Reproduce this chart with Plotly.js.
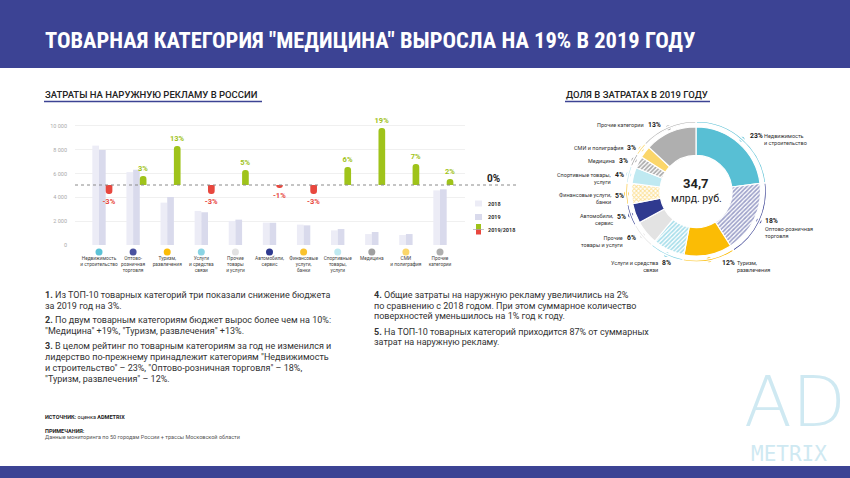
<!DOCTYPE html>
<html><head><meta charset="utf-8">
<script src="https://cdn.plot.ly/plotly-3.0.1.min.js"></script>
<style>html,body{margin:0;padding:0;background:#fff;}#chart{width:850px;height:478px;}</style>
</head><body><div id="chart"></div>
<script>
// ---------------- DATA ----------------
const categories = ['Недвижимость<br>и строительство','Оптово-<br>розничная<br>торговля','Туризм,<br>развлечения','Услуги<br>и средства<br>связи','Прочие<br>товары<br>и услуги','Автомобили,<br>сервис','Финансовые<br>услуги,<br>банки','Спортивные<br>товары,<br>услуги','Медицина','СМИ<br>и полиграфия','Прочие<br>категории'];
const spend2018 = [8350, 6120, 3560, 2860, 2020, 1880, 1710, 1230, 920, 840, 4590];
const spend2019 = [7980, 6320, 4030, 2750, 2130, 1870, 1650, 1340, 1090, 920, 4680];
const changePct = [-3, 3, 13, -3, 5, -1, -3, 6, 19, 7, 2];
const yTickVals = [0, 2000, 4000, 6000, 8000, 10000];
const yTickText = ['0', '2 000', '4 000', '6 000', '8 000', '10 000'];
const sharePct = [23, 18, 12, 8, 6, 5, 5, 4, 3, 3, 13];
const shareLabelLines = [['Недвижимость','и строительство'],['Оптово-розничная','торговля'],['Туризм,','развлечения'],['Услуги и средства','связи'],['Прочие','товары и услуги'],['Автомобили,','сервис'],['Финансовые услуги,','банки'],['Спортивные товары,','услуги'],['Медицина'],['СМИ и полиграфия'],['Прочие категории']];
const totalText = '34,7';
const totalUnit = 'млрд. руб.';
const legendLabels = ['2018', '2019', '2019/2018'];
const titleText = 'ТОВАРНАЯ КАТЕГОРИЯ "МЕДИЦИНА" ВЫРОСЛА НА 19% В 2019 ГОДУ';
const leftTitle = 'ЗАТРАТЫ НА НАРУЖНУЮ РЕКЛАМУ В РОССИИ';
const rightTitle = 'ДОЛЯ В ЗАТРАТАХ В 2019 ГОДУ';
const paraLeft = [
 ['<b>1.</b> Из ТОП-10 товарных категорий три показали снижение бюджета','за 2019 год на 3%.'],
 ['<b>2.</b> По двум товарным категориям бюджет вырос более чем на 10%:','"Медицина" +19%, "Туризм, развлечения" +13%.'],
 ['<b>3.</b> В целом рейтинг по товарным категориям за год не изменился и','лидерство по-прежнему принадлежит категориям "Недвижимость','и строительство" – 23%, "Оптово-розничная торговля" – 18%,','"Туризм, развлечения" – 12%.']
];
const paraRight = [
 ['<b>4.</b> Общие затраты на наружную рекламу увеличились на 2%','по сравнению с 2018 годом. При этом суммарное количество','поверхностей уменьшилось на 1% год к году.'],
 ['<b>5.</b> На ТОП-10 товарных категорий приходится 87% от суммарных','затрат на наружную рекламу.']
];
const sourceText = '<b>ИСТОЧНИК:</b> оценка <b>ADMETRIX</b>';
const notesTitle = '<b>ПРИМЕЧАНИЯ:</b>';
const notesText = 'Данные мониторинга по 50 городам России + трассы Московской области';

// ---------------- STYLE ----------------
const W = 850, H = 478;
const X = p => p / W, Y = p => 1 - p / H;
const NAVY = '#3c4394', GREEN = '#9fc31a', RED = '#e8473e';
const iconColors = ['#5bc2d6','#4a52a0','#fbbc05','#8ad4e4','#e2e2e2','#2f3a8f','#f9c22e','#bfe9f1','#a0a0a0','#fbd66a','#afafaf'];
const sliceColors = ['#58bfd4','#ffffff','#fbbc05','#ffffff','#e3e3e3','#2f3a8f','#ffffff','#bfe9f1','#ffffff','#fbd66a','#afafaf'];
const slicePattern = ['','/','','/','','','x','','/','',''];
const sliceFg = ['#58bfd4','#3c4394','#fbbc05','#4fbdd6','#e3e3e3','#2f3a8f','#f9c22e','#bfe9f1','#555555','#fbd66a','#afafaf'];
const ringColors = ['#58bfd4','#3c4394','#fbbc05','#7fd0e2','#e2e2e2','#2f3a8f','#f9c22e','#bfe9f1','#9a9a9a','#fbd66a','#afafaf'];
const BW = 0.196;
const idx = categories.map((_, i) => i);
const FONT = 'Roboto, "Open Sans", sans-serif';

const traces = [
 {type:'bar', x: idx, y: spend2018, offset: -BW, width: BW, marker:{color:'#ececf6'}, xaxis:'x', yaxis:'y', hoverinfo:'skip'},
 {type:'bar', x: idx, y: spend2019, offset: 0, width: BW, marker:{color:'#d9daec'}, xaxis:'x', yaxis:'y', hoverinfo:'skip'},
 {type:'bar', x: idx, y: changePct, offset: BW, width: BW, xaxis:'x', yaxis:'y2',
  marker:{color: changePct.map(v => v >= 0 ? GREEN : RED), cornerradius: 3},
  text: changePct.map(v => v + '%'), textposition:'outside', constraintext:'none', cliponaxis:false,
  textfont:{family:FONT, size:7.5, weight:700, color: changePct.map(v => v >= 0 ? GREEN : RED)}, hoverinfo:'skip'},
 {type:'scatter', mode:'markers', x: idx, y: idx.map(() => 0.5), xaxis:'x', yaxis:'y4', cliponaxis:false,
  marker:{size:7, color: iconColors}, hoverinfo:'skip'}
];

// donut
traces.push({type:'pie', values: sharePct, sort:false, direction:'clockwise', rotation:0, hole:0.56,
 domain:{x:[X(631.5), X(760.5)], y:[Y(256), Y(127)]}, textinfo:'none', hoverinfo:'none', showlegend:false,
 marker:{colors: sliceColors, line:{color:'#ffffff', width:1.2},
  pattern:{shape: slicePattern, fgcolor: sliceFg, fillmode:'overlay', size:3, solidity:0.55}}});
// outer ring
traces.push({type:'pie', values: sharePct, sort:false, direction:'clockwise', rotation:0, hole:0.97,
 domain:{x:[X(625.5), X(766.5)], y:[Y(262), Y(121)]}, textinfo:'none', hoverinfo:'none', showlegend:false,
 marker:{colors: ringColors, line:{color:'#ffffff', width:1.5}}});
// ring dots at slice middles
const total = sharePct.reduce((a, b) => a + b, 0);
let cum = 0; const dotX = [], dotY = [];
sharePct.forEach(v => { const a = 2 * Math.PI * (cum + v / 2) / total; dotX.push(69.5 * Math.sin(a)); dotY.push(69.5 * Math.cos(a)); cum += v; });
traces.push({type:'scatter', mode:'markers', x: dotX, y: dotY, xaxis:'x3', yaxis:'y3', cliponaxis:false,
 marker:{size:5, color: ringColors}, hoverinfo:'skip'});

// ---------------- ANNOTATIONS ----------------
const ann = [];
const A = (txt, x, y, o) => ann.push(Object.assign({text: txt, x: X(x), y: Y(y), xref:'paper', yref:'paper', showarrow:false, xanchor:'left', yanchor:'middle', borderpad:0, font:{family:FONT, size:9, color:'#333'}}, o || {}));
A('<b>' + titleText + '</b>', 44, 40, {font:{family:'"Liberation Sans Narrow", "Roboto Condensed", "Arial Narrow", sans-serif', size:22.5, color:'#ffffff'}});
A(leftTitle, 44, 94.5, {font:{family:FONT, size:9.5, color:'#222', weight:500}});
A(rightTitle, 565, 94.5, {font:{family:FONT, size:9.5, color:'#222', weight:500}});
// paragraphs
const leftY = [[295, 305.5], [319.5, 330.5], [346, 357, 368, 379]];
paraLeft.forEach((p, i) => p.forEach((l, j) => A(l, 44, leftY[i][j])));
const rightY = [[295, 305.5, 316], [331.5, 342]];
paraRight.forEach((p, i) => p.forEach((l, j) => A(l, 373, rightY[i][j])));
A(sourceText, 44, 417, {font:{family:FONT, size:5.5, color:'#222'}});
A(notesTitle, 44, 430.5, {font:{family:FONT, size:5.5, color:'#222'}});
A(notesText, 44, 436.5, {font:{family:FONT, size:5.5, color:'#555'}});
// legend + 0%
A('<b>0%</b>', 486, 178, {font:{family:FONT, size:10, color:'#222'}});
A(legendLabels[0], 487, 203.5, {font:{family:FONT, size:5.5, color:'#333', weight:700}});
A(legendLabels[1], 487, 217, {font:{family:FONT, size:5.5, color:'#333', weight:700}});
A(legendLabels[2], 487, 229.5, {font:{family:FONT, size:5.5, color:'#333', weight:700}});
// donut centre
A('<b>' + totalText + '</b>', 696, 183, {xanchor:'center', font:{family:FONT, size:13, color:'#222'}});
A(totalUnit, 696, 198, {xanchor:'center', font:{family:FONT, size:10.5, color:'#222'}});
// donut labels
const labelPos = [
 {side:'r', px:749, py:136, nx:763, ny:136},
 {side:'r', px:764, py:221, nx:764, ny:229},
 {side:'r', px:721, py:263, nx:736, ny:263},
 {side:'l', nx:659, ny:263},
 {side:'l', nx:624, ny:238},
 {side:'l', nx:614, ny:216.5},
 {side:'l', nx:612, ny:195.5},
 {side:'l', nx:612, ny:175},
 {side:'l', nx:616, ny:161},
 {side:'l', nx:624, ny:147.5},
 {side:'l', nx:645, ny:125}
];
const LH = 6.6;
sharePct.forEach((v, i) => {
 const L = labelPos[i], lines = shareLabelLines[i];
 const cy = L.ny + (lines.length - 1) * LH / 2;
 const nameFont = {family:FONT, size:5.5, color:'#333'};
 const pctFont = {family:FONT, size:6.8, color:'#222', weight:700};
 if (L.side === 'l') {
  A(lines.join('<br>'), L.nx, cy, {xanchor:'right', align:'right', font:nameFont});
  A(v + '%', L.nx + 2, L.ny, {font:pctFont});
 } else {
  A(lines.join('<br>'), L.nx, cy, {align:'left', font:nameFont});
  A(v + '%', L.px, L.py, {font:pctFont});
 }
});
// logo
A('AD', 795, 402, {xanchor:'center', font:{family:'"DejaVu Sans", sans-serif', size:70, color:'#cfe9f2', weight:200}});
A('METRIX', 789, 454, {xanchor:'center', font:{family:'"DejaVu Sans Mono", monospace', size:21, color:'#cfe9f2'}});

// ---------------- SHAPES ----------------
const shapes = [
 {type:'rect', xref:'paper', yref:'paper', x0:0, x1:1, y0:Y(68), y1:1, fillcolor:NAVY, line:{width:0}},
 {type:'rect', xref:'paper', yref:'paper', x0:0, x1:1, y0:0, y1:Y(466), fillcolor:NAVY, line:{width:0}},
 {type:'line', xref:'paper', yref:'paper', x0:X(44), x1:X(262), y0:Y(101.5), y1:Y(101.5), line:{color:NAVY, width:1.5}},
 {type:'line', xref:'paper', yref:'paper', x0:X(565), x1:X(710), y0:Y(101.5), y1:Y(101.5), line:{color:NAVY, width:1.5}},
 {type:'line', xref:'paper', yref:'y2', x0:X(75), x1:X(518), y0:0, y1:0, line:{color:'#8a8a8a', width:1, dash:'dot'}, layer:'above'},
 {type:'rect', xref:'paper', yref:'paper', x0:X(475), x1:X(482), y0:Y(206.5), y1:Y(200.5), fillcolor:'#ececf6', line:{width:0}},
 {type:'rect', xref:'paper', yref:'paper', x0:X(475), x1:X(482), y0:Y(220), y1:Y(214), fillcolor:'#d9daec', line:{width:0}},
 {type:'rect', xref:'paper', yref:'paper', x0:X(476), x1:X(481), y0:Y(229.5), y1:Y(224), fillcolor:GREEN, line:{width:0}},
 {type:'rect', xref:'paper', yref:'paper', x0:X(476), x1:X(481), y0:Y(234.5), y1:Y(229.5), fillcolor:RED, line:{width:0}},
 {type:'line', xref:'paper', yref:'paper', x0:X(473), x1:X(484), y0:Y(229.5), y1:Y(229.5), line:{color:'#999', width:0.6}}
];

const layout = {
 width: W, height: H, margin:{l:0, r:0, t:0, b:0}, paper_bgcolor:'#ffffff', plot_bgcolor:'rgba(0,0,0,0)',
 showlegend:false, barmode:'overlay', font:{family:FONT},
 xaxis:{domain:[X(75), X(465)], range:[-0.704, 10.733], tickvals: idx, ticktext: categories, tickangle:0,
  tickfont:{family:FONT, size:4.8, color:'#444'}, showgrid:false, zeroline:false, showline:false, ticks:'', ticklabelstandoff:9, fixedrange:true},
 yaxis:{domain:[Y(245), Y(120)], range:[0, 10500], tickvals: yTickVals, ticktext: yTickText,
  tickfont:{family:FONT, size:5.5, color:'#aaa'}, gridcolor:'#f0f0f0', gridwidth:1, zeroline:false, showline:false, ticks:'', ticklabelstandoff:7, fixedrange:true},
 yaxis2:{overlaying:'y', range:[-20, 21.667], visible:false, fixedrange:true},
 yaxis4:{domain:[Y(256), Y(248)], range:[0, 1], visible:false, fixedrange:true, anchor:'x'},
 xaxis3:{domain:[X(596), X(796)], range:[-100, 100], visible:false, fixedrange:true},
 yaxis3:{domain:[Y(291.5), Y(91.5)], range:[-100, 100], visible:false, fixedrange:true},
 annotations: ann, shapes: shapes
};
Plotly.newPlot('chart', traces, layout, {staticPlot:true, displayModeBar:false});
</script></body></html>
